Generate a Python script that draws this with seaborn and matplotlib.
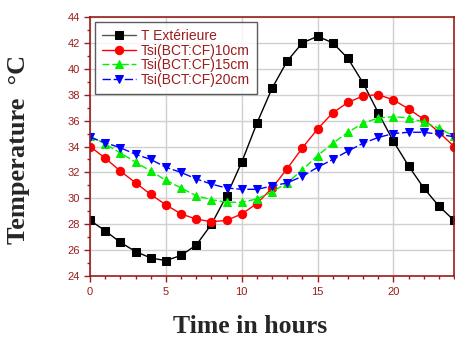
import numpy as np
import pandas as pd
import matplotlib
matplotlib.use("Agg")
import matplotlib.pyplot as plt
import seaborn as sns
from matplotlib.ticker import MultipleLocator

hours = list(range(25))
t_ext = [28.3, 27.5, 26.6, 25.9, 25.4, 25.2, 25.6, 26.4, 28.0, 30.2, 32.8, 35.8,
         38.5, 40.6, 42.0, 42.5, 42.0, 40.8, 38.9, 36.6, 34.4, 32.5, 30.8, 29.4, 28.3]
tsi_10 = [34.0, 33.1, 32.1, 31.2, 30.3, 29.5, 28.8, 28.4, 28.2, 28.3, 28.8, 29.6,
          30.8, 32.3, 33.9, 35.35, 36.6, 37.4, 37.9, 38.0, 37.6, 36.9, 36.1, 35.1, 34.0]
tsi_15 = [34.8, 34.2, 33.5, 32.8, 32.1, 31.4, 30.8, 30.2, 29.9, 29.7, 29.7, 29.95,
          30.5, 31.2, 32.2, 33.3, 34.25, 35.1, 35.8, 36.2, 36.3, 36.2, 35.9, 35.4, 34.8]
tsi_20 = [34.7, 34.3, 33.9, 33.4, 33.0, 32.4, 32.0, 31.5, 31.1, 30.8, 30.7, 30.7,
          30.95, 31.2, 31.7, 32.4, 33.0, 33.65, 34.25, 34.7, 35.0, 35.1, 35.1, 34.95, 34.75]
labels = ["T Extérieure", "Tsi(BCT:CF)10cm", "Tsi(BCT:CF)15cm", "Tsi(BCT:CF)20cm"]

sns.set_style("white")
plt.rcParams['font.family'] = ['Liberation Sans', 'DejaVu Sans']

dark_red = "#9B1C1C"
fig = plt.figure(figsize=(4.55, 3.38), dpi=100)
ax = fig.add_axes([0.198, 0.183, 0.800, 0.767])

series = [t_ext, tsi_10, tsi_15, tsi_20]
colors = ["black", "red", "#00EE00", "blue"]
markers = ["s", "o", "^", "v"]
dashes = ["-", "-", (0, (5, 2)), (0, (6, 2))]
for vals, lab, c, m, ls in zip(series, labels, colors, markers, dashes):
    df = pd.DataFrame({"h": hours, "v": vals})
    sns.lineplot(data=df, x="h", y="v", ax=ax, color=c, marker=m, markersize=6,
                 markeredgecolor=c, linewidth=1.0, linestyle=ls, label=lab)

ax.set_xlim(0, 24)
ax.set_ylim(24, 44)
ax.xaxis.set_major_locator(MultipleLocator(5))
ax.xaxis.set_minor_locator(MultipleLocator(1))
ax.yaxis.set_major_locator(MultipleLocator(2))
ax.yaxis.set_minor_locator(MultipleLocator(1))
ax.grid(True, which="major", color="#D0D0D0", linewidth=1.0)
ax.set_axisbelow(True)
ax.tick_params(axis="both", which="major", direction="out", length=4, width=1,
               color=dark_red, labelcolor=dark_red, labelsize=8, bottom=True, left=True)
ax.tick_params(axis="both", which="minor", direction="out", length=2, width=1,
               color=dark_red, bottom=True, left=True)
for s in ax.spines.values():
    s.set_color(dark_red)
    s.set_linewidth(1.2)
    s.set_visible(True)

ax.set_xlabel("Time in hours", fontsize=18.5, fontweight="bold",
              family=["Liberation Serif"])
ax.xaxis.set_label_coords(0.44, -0.15)
ax.set_ylabel("Temperature  °C", fontsize=19, fontweight="bold",
              family=["Liberation Serif"])
ax.yaxis.set_label_coords(-0.165, 0.49)

leg = ax.legend(loc="upper left", bbox_to_anchor=(0.005, 0.99), fontsize=10,
                frameon=True, fancybox=False, edgecolor="#333333",
                borderaxespad=0.2, handlelength=2.5, labelspacing=0.04,
                borderpad=0.5, handletextpad=0.35)
leg.get_frame().set_linewidth(1.0)
for t in leg.get_texts():
    t.set_color(dark_red)
leg.get_lines()[0].set_color("#555555")
leg.get_lines()[0].set_markerfacecolor("black")
leg.get_lines()[0].set_markeredgecolor("black")

fig.savefig("out.png", dpi=100)
